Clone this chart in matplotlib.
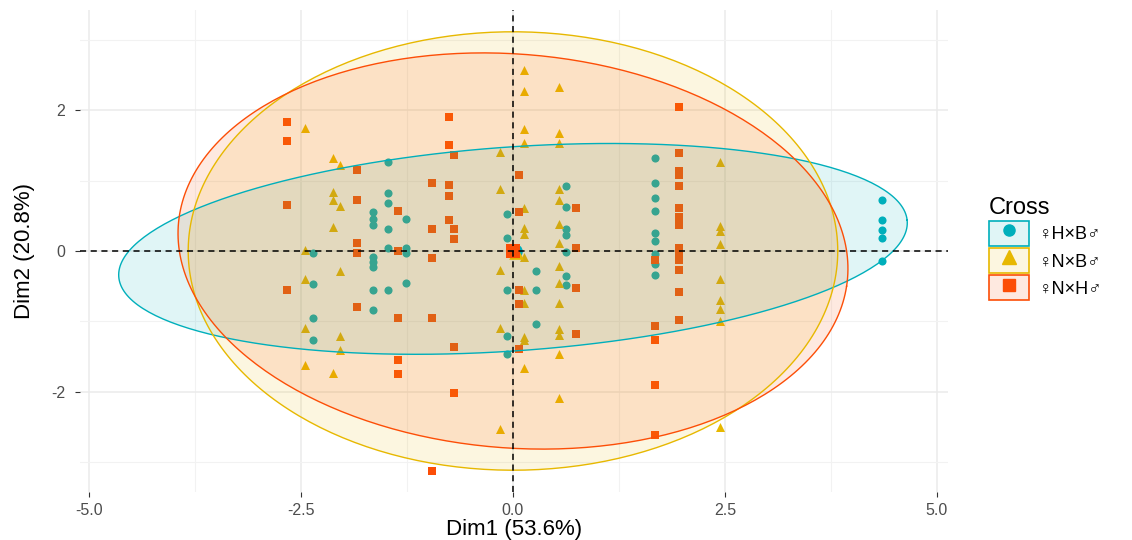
import numpy as np
import matplotlib
matplotlib.use("Agg")
import matplotlib.pyplot as plt
from matplotlib.patches import Patch
from matplotlib.lines import Line2D
from matplotlib.legend_handler import HandlerTuple

plt.rcParams['font.family'] = ['Liberation Sans', 'DejaVu Sans']

# ---- data ----
groups = ["♀H×B♂", "♀N×B♂", "♀N×H♂"]
colors = ["#00AFBB", "#E7B800", "#FC4E07"]
markers = ["o", "^", "s"]

hb_x = [-2.36]*4 + [-1.65]*8 + [-1.47]*6 + [-1.26]*4 + [-0.07]*5 + [0.27]*3 + [0.62]*7 + [1.68]*9 + [4.35]*5
hb_y = [-0.03, -0.47, -0.95, -1.26,
        0.56, 0.46, 0.37, -0.08, -0.16, -0.23, -0.55, -0.84,
        1.27, 0.82, 0.68, 0.32, 0.04, -0.56,
        0.46, 0.04, -0.03, -0.45,
        0.52, 0.18, -0.55, -1.21, -1.47,
        -0.29, -0.55, -1.04,
        0.92, 0.63, 0.31, 0.23, -0.02, -0.35, -0.49,
        1.32, 0.97, 0.76, 0.57, 0.25, 0.14, -0.04, -0.18, -0.34,
        0.72, 0.44, 0.30, 0.19, -0.14]

nb_x = [-2.45]*5 + [-2.12]*5 + [-2.04]*5 + [-0.15]*5 + [0.13]*13 + [0.54]*14 + [2.44]*9
nb_y = [1.75, 0.01, -0.40, -1.09, -1.62,
        1.33, 0.84, 0.72, 0.34, -1.73,
        1.22, 0.64, -0.29, -1.21, -1.41,
        1.41, 0.88, -0.27, -1.09, -2.53,
        2.58, 2.28, 1.74, 1.54, 0.61, 0.33, 0.24, -0.08, -0.56, -0.74, -1.22, -1.27, -1.67,
        2.34, 1.68, 1.54, 0.88, 0.73, 0.39, 0.11, -0.22, -0.46, -0.74, -1.11, -1.20, -1.47, -2.09,
        1.26, 0.35, 0.28, 0.10, -0.40, -0.70, -0.82, -1.00, -2.50]

nh_x = [-2.67]*4 + [-1.84]*5 + [-1.36]*5 + [-0.96]*5 + [-0.75]*5 + [-0.69]*5 + [0.07]*5 + [0.74]*4 + [1.68]*5 + [1.96]*14
nh_y = [1.84, 1.56, 0.66, -0.55,
        1.15, 0.73, 0.12, -0.03, -0.80,
        0.57, 0.00, -0.95, -1.55, -1.75,
        0.97, 0.32, -0.10, -0.95, -3.13,
        1.91, 1.51, 0.94, 0.78, 0.44,
        1.37, 0.31, 0.17, -1.37, -2.02,
        1.08, 0.55, -0.56, -0.75, -1.40,
        0.61, 0.04, -0.53, -1.18,
        -0.13, -1.07, -1.26, -1.91, -2.62,
        2.05, 1.39, 1.14, 1.08, 0.93, 0.61, 0.49, 0.37, 0.04, -0.05, -0.13, -0.27, -0.58, -0.98]

# group mean points (all overlap at the origin)
mean_x = [0.02, 0.03, 0.0]
mean_y = [0.0, -0.01, 0.0]

# concentration ellipses (center x, center y, semi-major, semi-minor, angle deg)
ell_cx = [0.0, 0.0, 0.0]
ell_cy = [0.03, 0.0, 0.0]
ell_a = [4.666, 3.83, 3.966]
ell_b = [1.449, 3.12, 2.797]
ell_ang = [5.03, 0.0, -7.26]

xs = [hb_x, nb_x, nh_x]
ys = [hb_y, nb_y, nh_y]

# ---- figure ----
fig = plt.figure(figsize=(11.32, 5.40), dpi=100)
ax = fig.add_axes([80/1132, 1-492/540, (948-80)/1132, (492-10)/540])

ax.set_xlim(-5.106, 5.13)
ax.set_ylim(-3.43, 3.43)

ax.set_xticks([-5.0, -2.5, 0.0, 2.5, 5.0])
ax.set_xticklabels(["-5.0", "-2.5", "0.0", "2.5", "5.0"])
ax.set_yticks([-2, 0, 2])
ax.set_yticklabels(["-2", "0", "2"])
ax.set_xticks([-3.75, -1.25, 1.25, 3.75], minor=True)
ax.set_yticks([-3, -1, 1, 3], minor=True)
ax.grid(which='major', color='#EBEBEB', linewidth=1.1, zorder=0)
ax.grid(which='minor', color='#F2F2F2', linewidth=0.8, zorder=0)
ax.set_axisbelow(True)
for s in ax.spines.values():
    s.set_visible(False)
ax.tick_params(which='major', length=3.5, width=0.8, color='#333333',
               labelcolor='#4D4D4D', labelsize=11.5)
ax.tick_params(axis='x', pad=4.5)
ax.tick_params(axis='y', pad=7)
ax.tick_params(which='minor', length=0)

# points (below ellipse fills)
for i in range(3):
    ax.scatter(xs[i], ys[i], s=34 if markers[i] != '^' else 42, marker=markers[i],
               color=colors[i], linewidths=0, zorder=2)

# ellipses
t = np.linspace(0, 2*np.pi, 300)
for i in range(3):
    th = np.deg2rad(ell_ang[i])
    ex = ell_cx[i] + ell_a[i]*np.cos(t)*np.cos(th) - ell_b[i]*np.sin(t)*np.sin(th)
    ey = ell_cy[i] + ell_a[i]*np.cos(t)*np.sin(th) + ell_b[i]*np.sin(t)*np.cos(th)
    ax.fill(ex, ey, color=colors[i], alpha=0.12, linewidth=0, zorder=3)
    ax.plot(ex, ey, color=colors[i], linewidth=1.0, zorder=4)

# group means
for i in range(3):
    ax.scatter([mean_x[i]], [mean_y[i]], s=110, marker=markers[i],
               color=colors[i], linewidths=0, zorder=5)

ax.axhline(0, color='black', linestyle=(0, (4, 3)), linewidth=1.1, zorder=6)
ax.axvline(0, color='black', linestyle=(0, (4, 3)), linewidth=1.1, zorder=6)

ax.set_xlabel("Dim1 (53.6%)", fontsize=16, labelpad=1)
ax.set_ylabel("Dim2 (20.8%)", fontsize=16, labelpad=12)

# legend
handles = []
for i in range(3):
    p = Patch(facecolor=matplotlib.colors.to_rgba(colors[i], 0.12), edgecolor=colors[i], linewidth=1.2)
    m = Line2D([], [], marker=markers[i], color=colors[i], linestyle='None',
               markersize=8 if markers[i] != '^' else 9.5)
    handles.append((p, m))
leg = fig.legend(handles, groups, loc='upper left', bbox_to_anchor=(989/1132, 1-197/540),
                 frameon=False, title="Cross", title_fontsize=17, fontsize=13,
                 handlelength=2.2, handleheight=1.75, labelspacing=0.12, handletextpad=0.55,
                 borderaxespad=0, borderpad=0,
                 handler_map={tuple: HandlerTuple(ndivide=1)})
leg._legend_box.align = "left"

fig.savefig("out.png", dpi=100)
